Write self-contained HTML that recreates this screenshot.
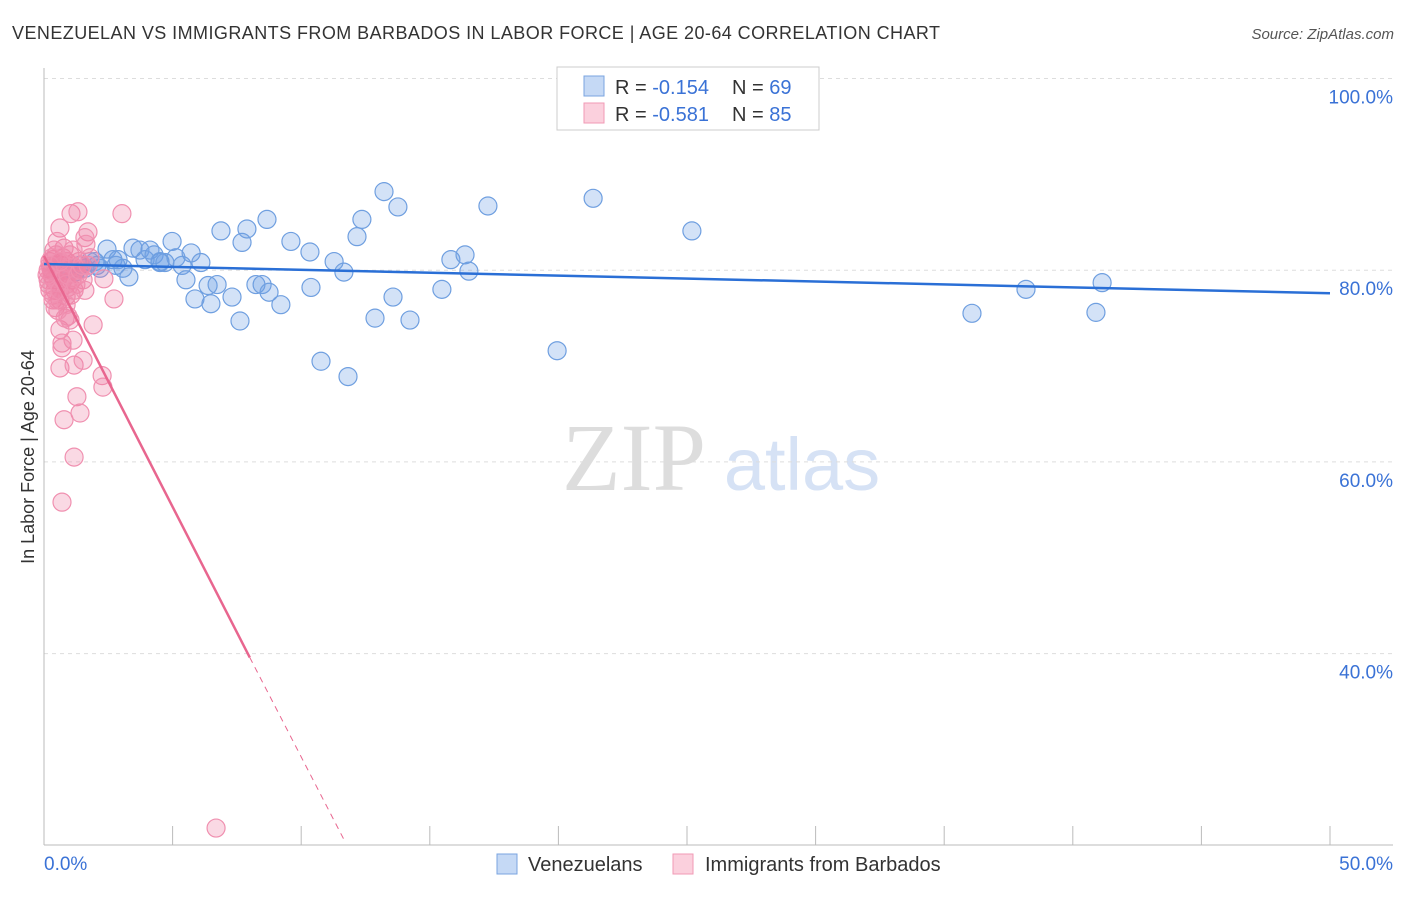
<!DOCTYPE html>
<html><head><meta charset="utf-8"><style>
body{margin:0;background:#fff;font-family:"Liberation Sans",sans-serif;}
</style></head><body>
<svg width="1406" height="892" xmlns="http://www.w3.org/2000/svg" style="font-family:'Liberation Sans',sans-serif">
<text x="12" y="39" font-size="18" fill="#333" textLength="928" lengthAdjust="spacing">VENEZUELAN VS IMMIGRANTS FROM BARBADOS IN LABOR FORCE | AGE 20-64 CORRELATION CHART</text>
<text x="1394" y="39" font-size="15" fill="#555" font-style="italic" text-anchor="end">Source: ZipAtlas.com</text>
<g>
<text x="634" y="490" font-size="96" fill="#ddd" font-family="'Liberation Serif',serif" text-anchor="middle">ZIP</text>
<text x="802" y="490" font-size="74" fill="#d6e2f5" text-anchor="middle">atlas</text>
</g>
<g id="grid"></g>
<g id="axes"></g>
<g id="pts"></g>
<g id="lines"></g>
<text transform="translate(34,457) rotate(-90)" font-size="18" fill="#333" text-anchor="middle">In Labor Force | Age 20-64</text>
<g>
<rect x="557" y="67" width="262" height="63" fill="#fff" stroke="#ccc"/>
<rect x="584" y="76" width="20" height="20" fill="#c5d9f5" stroke="#7aa4e0"/>
<rect x="584" y="103" width="20" height="20" fill="#fbd0dd" stroke="#f09ab5"/>
<text x="615" y="94" font-size="20" fill="#333">R = <tspan fill="#3a72d6">-0.154</tspan></text>
<text x="732" y="94" font-size="20" fill="#333">N = <tspan fill="#3a72d6">69</tspan></text>
<text x="615" y="121" font-size="20" fill="#333">R = <tspan fill="#3a72d6">-0.581</tspan></text>
<text x="732" y="121" font-size="20" fill="#333">N = <tspan fill="#3a72d6">85</tspan></text>
</g>
<g>
<rect x="497" y="854" width="20" height="20" fill="#c5d9f5" stroke="#7aa4e0"/>
<text x="528" y="871" font-size="20" fill="#333">Venezuelans</text>
<rect x="673" y="854" width="20" height="20" fill="#fbd0dd" stroke="#f09ab5"/>
<text x="705" y="871" font-size="20" fill="#333">Immigrants from Barbados</text>
</g>
</svg>
<script>
const yTicks=[100,80,60,40];
const yTickLabels=["100.0%","80.0%","60.0%","40.0%"];
const xTicks=[0,5,10,15,20,25,30,35,40,45,50];
const blueX=[2.45,2.68,2.88,3.07,3.30,3.46,3.73,3.93,4.12,4.28,4.51,4.70,4.98,5.13,5.37,5.52,5.72,5.87,6.10,6.38,6.49,6.73,6.88,7.31,7.62,7.70,7.89,8.24,8.48,8.67,8.75,9.21,9.60,10.34,10.38,10.77,11.28,11.66,11.82,12.17,12.36,12.87,13.22,13.57,13.76,14.23,15.47,15.82,16.37,16.52,17.26,19.95,21.35,25.19,36.08,38.18,40.90,41.14,0.74,1.01,1.40,1.79,2.06,2.18,1.59,1.21,1.98,4.51,2.80];
const blueY=[82.2,81.1,81.1,80.2,79.3,82.3,82.1,81.1,82.1,81.6,80.8,80.8,83.0,81.3,80.5,79.0,81.8,77.0,80.8,78.4,76.5,78.5,84.1,77.2,74.7,82.9,84.3,78.5,78.5,85.3,77.7,76.4,83.0,81.9,78.2,70.5,80.9,79.8,68.9,83.5,85.3,75.0,88.2,77.2,86.6,74.8,78.0,81.1,81.6,79.9,86.7,71.6,87.5,84.1,75.5,78.0,75.6,78.7,80.0,80.0,80.5,80.9,80.5,80.2,80.2,79.8,80.9,80.9,80.5];
const pinkX=[3.03,1.05,1.32,1.71,1.59,1.63,0.62,0.78,0.51,0.47,0.35,0.31,0.39,0.43,0.35,0.43,0.62,0.86,0.93,1.09,1.21,1.36,1.52,0.62,0.70,0.82,0.93,1.01,1.13,0.70,0.62,1.17,1.52,1.91,2.26,2.29,2.72,2.33,1.28,1.40,0.78,1.17,0.70,6.69,0.23,0.27,0.31,0.16,0.19,0.23,0.35,0.51,0.54,0.66,0.74,0.82,0.89,1.01,1.09,0.54,0.62,0.47,0.39,0.31,0.23,0.62,0.74,0.86,0.93,1.05,1.17,1.24,1.32,1.40,1.48,1.59,0.62,0.16,0.12,0.54,0.86,1.71,1.13,1.79];
const pinkY=[85.9,85.9,86.1,84.0,83.4,82.7,84.4,82.3,83.0,80.5,81.1,80.0,79.0,77.9,76.9,76.1,76.9,77.3,78.2,79.0,80.0,80.9,79.0,73.8,72.4,75.0,75.2,74.8,72.7,71.9,69.8,70.1,70.6,74.3,69.0,67.8,77.0,79.1,66.8,65.1,64.4,60.5,55.8,21.8,80.9,80.2,79.5,79.0,78.5,77.9,77.4,76.9,79.8,80.5,81.3,80.0,80.9,81.6,80.5,78.7,77.9,81.6,82.1,81.3,80.5,79.5,79.0,78.5,79.5,77.4,77.9,78.5,79.5,80.0,80.5,77.9,80.9,80.0,79.5,75.8,76.4,80.5,82.1,81.3];
const blueTrend=[[0,80.65],[50,77.6]];
const pinkTrendSolid=[[0,81.5],[8.0,39.6]];
const pinkTrendDash=[[8.0,39.6],[11.7,20.4]];
const X=v=>44+v*25.72, Y=v=>1037-v*9.585;
const NS="http://www.w3.org/2000/svg";
function mk(p,t,a){const e=document.createElementNS(NS,t);for(const k in a)e.setAttribute(k,a[k]);document.getElementById(p).appendChild(e);return e;}
yTicks.forEach((t,i)=>{
 const l=mk('grid','line',{x1:44,x2:1393,y1:Y(t),y2:Y(t),stroke:'#ddd','stroke-dasharray':'4,4'});
 
 
 const tx=mk('grid','text',{x:1393,y:Y(t)+25,'font-size':19,fill:'#3a72d6','text-anchor':'end'});
 tx.textContent=yTickLabels[i];
 
 
});
let a=mk('axes','line',{x1:44,x2:44,y1:68,y2:845,stroke:'#bbb'});


a=mk('axes','line',{x1:44,x2:1393,y1:845,y2:845,stroke:'#bbb'});


xTicks.forEach(t=>{const l=mk('axes','line',{x1:X(t),x2:X(t),y1:826,y2:845,stroke:'#bbb'});
 
 });
let t0=mk('axes','text',{x:44,y:870,'font-size':19,fill:'#3a72d6'});t0.textContent='0.0%';


t0=mk('axes','text',{x:1393,y:870,'font-size':19,fill:'#3a72d6','text-anchor':'end'});t0.textContent='50.0%';


blueX.forEach((v,i)=>{const c=mk('pts','circle',{cx:X(v),cy:Y(blueY[i]),r:9,fill:'rgba(110,160,230,0.3)',stroke:'#6f9fe0','stroke-width':1.2});
 
 });
pinkX.forEach((v,i)=>{const c=mk('pts','circle',{cx:X(v),cy:Y(pinkY[i]),r:9,fill:'rgba(240,130,165,0.3)',stroke:'#f090b0','stroke-width':1.2});
 
 });
function ln(d,st,dash,name){const l=mk('lines','line',{x1:X(d[0][0]),y1:Y(d[0][1]),x2:X(d[1][0]),y2:Y(d[1][1]),stroke:st,'stroke-width':dash?1:2.5});
 if(dash)l.setAttribute('stroke-dasharray','6,5');
 
 }
ln(blueTrend,'#2a6fd6',false,'venezuelan-trend-line');
ln(pinkTrendSolid,'#e8668f',false,'barbados-trend-line');
ln(pinkTrendDash,'#e8668f',true,'barbados-trend-extension');
</script>
</body></html>
